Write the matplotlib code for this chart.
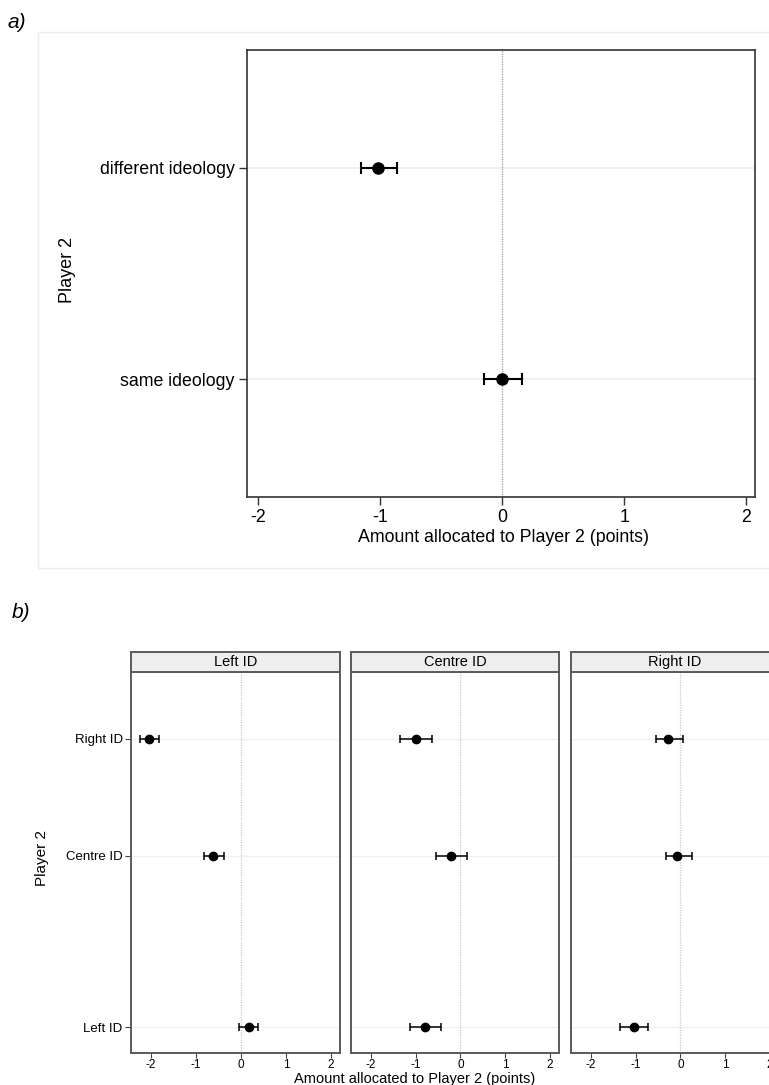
import matplotlib
matplotlib.use("Agg")
import matplotlib.pyplot as plt
from matplotlib.patches import Rectangle

plt.rcParams['font.family'] = ['Liberation Sans', 'DejaVu Sans']

# ---- Panel a data: pooled estimates ----
a_categories = ["different ideology", "same ideology"]
a_means = [-1.02, 0.00]
a_lo = [-1.16, -0.15]
a_hi = [-0.86, 0.16]

# ---- Panel b data: by Player 1 ideology (facets) ----
b_facets = ["Left ID", "Centre ID", "Right ID"]
b_categories = ["Right ID", "Centre ID", "Left ID"]
b_means = {
    "Left ID":   [-2.04, -0.62, 0.17],
    "Centre ID": [-1.00, -0.22, -0.80],
    "Right ID":  [-0.28, -0.07, -1.03],
}
b_lo = {
    "Left ID":   [-2.24, -0.81, -0.05],
    "Centre ID": [-1.34, -0.54, -1.13],
    "Right ID":  [-0.54, -0.33, -1.35],
}
b_hi = {
    "Left ID":   [-1.82, -0.38, 0.39],
    "Centre ID": [-0.63, 0.15, -0.44],
    "Right ID":  [0.05, 0.25, -0.72],
}
x_ticks = [-2, -1, 0, 1, 2]
xlabel = "Amount allocated to Player 2 (points)"
ylabel = "Player 2"

W, H = 769, 1085
fig = plt.figure(figsize=(W / 100, H / 100), dpi=100)
fig.patch.set_facecolor("white")


def px(l, t, r, b):
    return [l / W, 1 - b / H, (r - l) / W, (b - t) / H]


def fx(x):
    return x / W


def fy(y):
    return 1 - y / H


# ---------------- panel a ----------------
fig.text(fx(8), fy(22), "a)", fontsize=15, style="italic", va="center", ha="left")
fig.patches.append(Rectangle((fx(38), fy(568)), (W + 20 - 38) / W, (568 - 32) / H,
                             transform=fig.transFigure, fill=False,
                             edgecolor="#e6eeee", linewidth=1.0))

ax = fig.add_axes(px(247, 50, 755, 497))
ya = [1, 2]
ax.set_xlim(-2.09, 2.07)
ax.set_ylim(2.556, 0.444)
for y in ya:
    ax.axhline(y, color="#e7eff2", lw=1.2, zorder=0)
ax.axvline(0, color="#9a9a9a", lw=0.9, ls=(0, (1, 1)), zorder=1)
ax.errorbar(a_means, ya,
            xerr=[[m - l for m, l in zip(a_means, a_lo)], [h - m for m, h in zip(a_means, a_hi)]],
            fmt="o", color="black", ms=8, capsize=4.5, elinewidth=1.5, capthick=1.5, zorder=3)
ax.set_yticks(ya)
ax.set_yticklabels(a_categories, fontsize=12.8)
ax.set_xticks(x_ticks)
ax.set_xticklabels([str(t) for t in x_ticks], fontsize=12.8)
ax.tick_params(length=6, width=1.0, color="#333333", pad=3)
for s in ax.spines.values():
    s.set_color("#333333")
    s.set_linewidth(1.2)
fig.text(fx(504), fy(538), xlabel, fontsize=12.8, ha="center", va="center")
fig.text(fx(68), fy(270), ylabel, fontsize=13, ha="center", va="center", rotation=90)

# ---------------- panel b ----------------
fig.text(fx(12), fy(612), "b)", fontsize=15, style="italic", va="center", ha="left")

panel_x = [(131, 340), (351, 559), (571, 779)]
top, bottom, strip_top = 672, 1053, 652
# category rows in pixel units measured from the top of the plot area
yb = [67, 184, 355]

for i, (facet, (l, r)) in enumerate(zip(b_facets, panel_x)):
    axb = fig.add_axes(px(l, top, r, bottom))
    axb.set_xlim(-2.44, 2.2)
    axb.set_ylim(bottom - top, 0)
    for y in yb:
        axb.axhline(y, color="#f0f0f0", lw=1.0, zorder=0)
    axb.axvline(0, color="#c8c8c8", lw=0.9, ls=(0, (1, 1)), zorder=1)
    m, lo, hi = b_means[facet], b_lo[facet], b_hi[facet]
    axb.errorbar(m, yb,
                 xerr=[[a - b for a, b in zip(m, lo)], [b - a for a, b in zip(m, hi)]],
                 fmt="o", color="black", ms=6, capsize=3, elinewidth=1.1, capthick=1.1, zorder=3)
    axb.set_xticks(x_ticks)
    axb.set_xticklabels([str(t) for t in x_ticks], fontsize=8.5)
    axb.tick_params(axis="x", length=3.5, width=0.8, color="#444444", pad=1)
    axb.tick_params(axis="y", length=4, width=0.8, color="#444444", pad=2)
    axb.set_yticks(yb)
    if i == 0:
        axb.set_yticklabels(b_categories, fontsize=9.5)
    else:
        axb.tick_params(axis="y", left=False, labelleft=False)
    for s in axb.spines.values():
        s.set_color("#5a5a5a")
        s.set_linewidth(1.4)

    # facet header strip
    sx = fig.add_axes(px(l, strip_top, r, top))
    sx.set_facecolor("#eeeeee")
    sx.set_xticks([])
    sx.set_yticks([])
    for s in sx.spines.values():
        s.set_color("#5a5a5a")
        s.set_linewidth(1.4)
    sx.text(0.5, 0.5, facet, transform=sx.transAxes, ha="center", va="center", fontsize=10.5)

fig.text(fx(415), fy(1083), xlabel, fontsize=10.5, ha="center", va="baseline")
fig.text(fx(42), fy(858), ylabel, fontsize=11, ha="center", va="center", rotation=90)

fig.savefig("out.png", dpi=100)
